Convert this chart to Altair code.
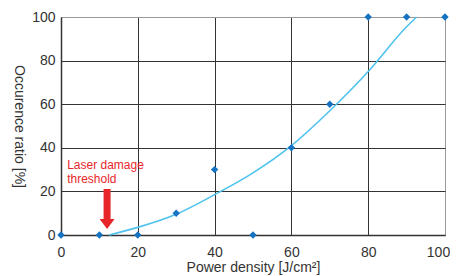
import altair as alt
import pandas as pd

# measured points
pd_x = [0, 10, 20, 30, 40, 50, 60, 70, 80, 90, 100]
ratio = [0, 0, 0, 10, 30, 0, 40, 60, 100, 100, 100]

# fitted curve
curve_x = [12.5, 20, 30, 40, 50, 60, 70, 80, 90, 92.6]
curve_y = [0, 3.5, 9.5, 18.5, 28.5, 41, 57, 75, 95.5, 100]

# annotation
note_lines = ["Laser damage", "threshold"]
note_x = [1.6, 1.6]
note_y = [32, 25.5]
arrow_x = [12]
arrow_y = [11.9]

pts = pd.DataFrame({"x": pd_x, "y": ratio})
crv = pd.DataFrame({"x": curve_x, "y": curve_y})
notes = pd.DataFrame({"t": note_lines, "x": note_x, "y": note_y})
arr = pd.DataFrame({"x": arrow_x, "y": arrow_y})

FONT = "Liberation Sans"
ticks = [0, 20, 40, 60, 80, 100]

xs = alt.Scale(domain=[0, 100], nice=False)
ys = alt.Scale(domain=[0, 100], nice=False)

grid_cond = alt.condition("datum.value == 100", alt.value("#9a9a9a"), alt.value("#333333"))
last_offset = alt.condition("datum.value == 100", alt.value(-7), alt.value(0))

xax = alt.Axis(values=ticks, title="Power density [J/cm²]", grid=True, gridColor=grid_cond,
               gridWidth=1, domainColor="#333333", domainWidth=1.5, ticks=False,
               labelFlush=False, labelOverlap=False, labelOffset=last_offset,
               labelPadding=10, labelFontSize=14, labelColor="#333333", labelFont=FONT,
               titleFontSize=14, titleFont=FONT, titleFontWeight="normal", titleColor="#333333",
               titlePadding=1)
yax = alt.Axis(values=ticks, title="Occurence ratio [%]", grid=True, gridColor=grid_cond,
               gridWidth=1, domainColor="#333333", domainWidth=1.5, ticks=False,
               labelFlush=False, labelOverlap=False,
               labelPadding=6, labelFontSize=14, labelColor="#333333", labelFont=FONT,
               titleFontSize=14, titleFont=FONT, titleFontWeight="normal", titleColor="#333333",
               titleAngle=90, titlePadding=20)

curve = alt.Chart(crv).mark_line(color="#4FC3EE", strokeWidth=1.6, interpolate="monotone").encode(
    x=alt.X("x:Q", scale=xs, axis=xax),
    y=alt.Y("y:Q", scale=ys, axis=yax),
)

points = alt.Chart(pts).mark_point(shape="diamond", filled=True, size=55, color="#1573C2",
                                   opacity=1, clip=False).encode(
    x=alt.X("x:Q", scale=xs),
    y=alt.Y("y:Q", scale=ys),
)

text = alt.Chart(notes).mark_text(align="left", baseline="middle", color="#E8262A",
                                  font=FONT, fontSize=12, dy=0).encode(
    x=alt.X("x:Q", scale=xs),
    y=alt.Y("y:Q", scale=ys),
    text="t:N",
)

arrow_path = "M-0.175,-1 L0.175,-1 L0.175,0.5 L0.375,0.5 L0,1 L-0.375,0.5 L-0.175,0.5 Z"
arrow = alt.Chart(arr).mark_point(shape=arrow_path, filled=True, size=1600, color="#E8262A",
                                  opacity=1, strokeWidth=0).encode(
    x=alt.X("x:Q", scale=xs),
    y=alt.Y("y:Q", scale=ys),
)

chart = alt.layer(curve, text, arrow, points).properties(
    width=384, height=218,
    autosize=alt.AutoSizeParams(type="none"),
    padding={"left": 53, "top": 9, "right": 5, "bottom": 45},
).configure_view(stroke=None).configure(background="white")

chart.save("out.html", embed_options={"renderer": "svg", "actions": False})
